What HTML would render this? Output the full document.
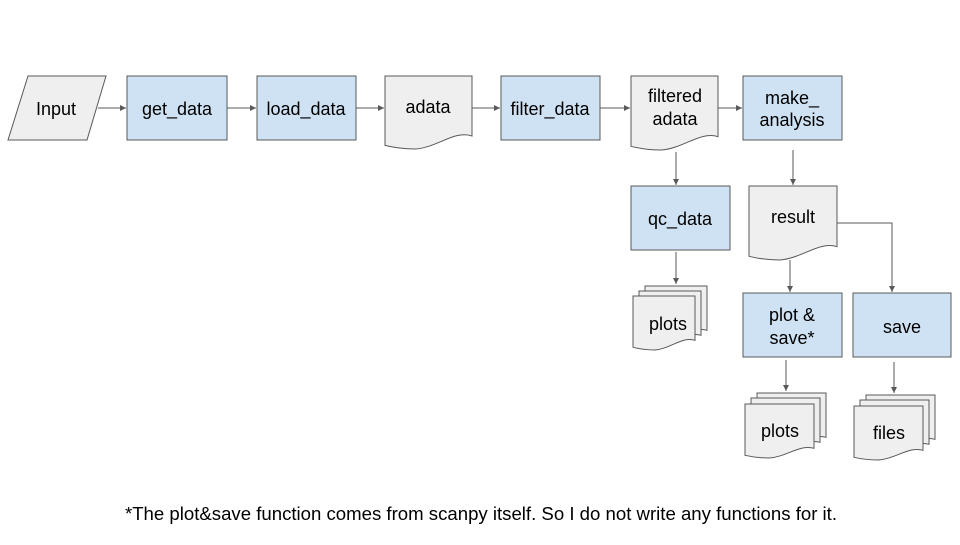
<!DOCTYPE html>
<html><head><style>body{margin:0;background:#fff}</style></head><body>
<svg width="960" height="540" viewBox="0 0 960 540" xmlns="http://www.w3.org/2000/svg" font-family="Liberation Sans, Arial, sans-serif" font-size="18" fill="#000">
<defs>
<path id="s62" d="M0,0 H62 V44.3 C49.6,40 37.2,52.9 21.7,54 C12.4,54 6.2,52.9 0,51.3 Z"/>
<path id="s69" d="M0,0 H69 V44.3 C55.2,40 41.4,52.9 24.2,54 C13.8,54 6.9,52.9 0,51.3 Z"/>
<marker id="ar" markerWidth="8" markerHeight="8" refX="6" refY="3" orient="auto" markerUnits="userSpaceOnUse"><path d="M0,0 L6,3 L0,6 Z" fill="#595959"/></marker>
</defs>
<g stroke="#595959" stroke-width="1" fill="none" marker-end="url(#ar)">
<line x1="98" y1="108" x2="126" y2="108"/>
<line x1="227" y1="108" x2="256" y2="108"/>
<line x1="356" y1="108" x2="384" y2="108"/>
<line x1="472" y1="108" x2="500" y2="108"/>
<line x1="600" y1="108" x2="630" y2="108"/>
<line x1="718" y1="108" x2="742" y2="108"/>
<line x1="676" y1="152" x2="676" y2="185"/>
<line x1="793" y1="150" x2="793" y2="185"/>
<line x1="676" y1="252" x2="676" y2="284"/>
<line x1="790" y1="260" x2="790" y2="292"/>
<polyline points="837,223 892,223 892,292"/>
<line x1="786" y1="360" x2="786" y2="391"/>
<line x1="894" y1="362" x2="894" y2="393"/>
</g>
<g stroke="#595959" stroke-width="1">
<polygon points="8,140 28,76 106,76 87,140" fill="#efefef"/>
<rect x="127" y="76" width="100" height="64" fill="#cfe2f3"/>
<rect x="257" y="76" width="99" height="64" fill="#cfe2f3"/>
<rect x="501" y="76" width="99" height="64" fill="#cfe2f3"/>
<rect x="743" y="76" width="99" height="64" fill="#cfe2f3"/>
<rect x="631" y="186" width="99" height="64" fill="#cfe2f3"/>
<rect x="743" y="293" width="99" height="64" fill="#cfe2f3"/>
<rect x="853" y="293" width="98" height="64" fill="#cfe2f3"/>
<path fill="#efefef" d="M385,76 H472 V136 C454.6,130 437.2,147.5 415.5,149 C402.4,149 393.7,147.5 385,145.4 Z"/>
<path fill="#efefef" d="M631,76 H718 V136.7 C700.6,130.8 683.2,148.5 661.5,150 C648.4,150 639.7,148.5 631,146.3 Z"/>
<path fill="#efefef" d="M749,186 H837 V246.7 C819.4,240.8 801.8,258.5 779.8,260 C766.6,260 757.8,258.5 749,256.3 Z"/>
<g fill="#efefef">
<use href="#s62" transform="translate(645,286)"/>
<use href="#s62" transform="translate(639,291)"/>
<use href="#s62" transform="translate(633,296)"/>
<use href="#s69" transform="translate(757,393)"/>
<use href="#s69" transform="translate(751,398)"/>
<use href="#s69" transform="translate(745,404)"/>
<use href="#s69" transform="translate(866,395)"/>
<use href="#s69" transform="translate(860,400)"/>
<use href="#s69" transform="translate(854,406)"/>
</g>
</g>
<g text-anchor="middle">
<text x="56" y="115">Input</text>
<text x="177" y="115">get_data</text>
<text x="306" y="115">load_data</text>
<text x="428" y="113">adata</text>
<text x="550" y="115">filter_data</text>
<text x="675" y="102">filtered</text>
<text x="675" y="125">adata</text>
<text x="792" y="104">make_</text>
<text x="792" y="126">analysis</text>
<text x="680" y="225">qc_data</text>
<text x="793" y="223">result</text>
<text x="668" y="330">plots</text>
<text x="792" y="321">plot &amp;</text>
<text x="792" y="344">save*</text>
<text x="902" y="333">save</text>
<text x="780" y="437">plots</text>
<text x="889" y="439">files</text>
<text x="481" y="520" font-size="18.6">*The plot&amp;save function comes from scanpy itself. So I do not write any functions for it.</text>
</g>
</svg>
</body></html>
